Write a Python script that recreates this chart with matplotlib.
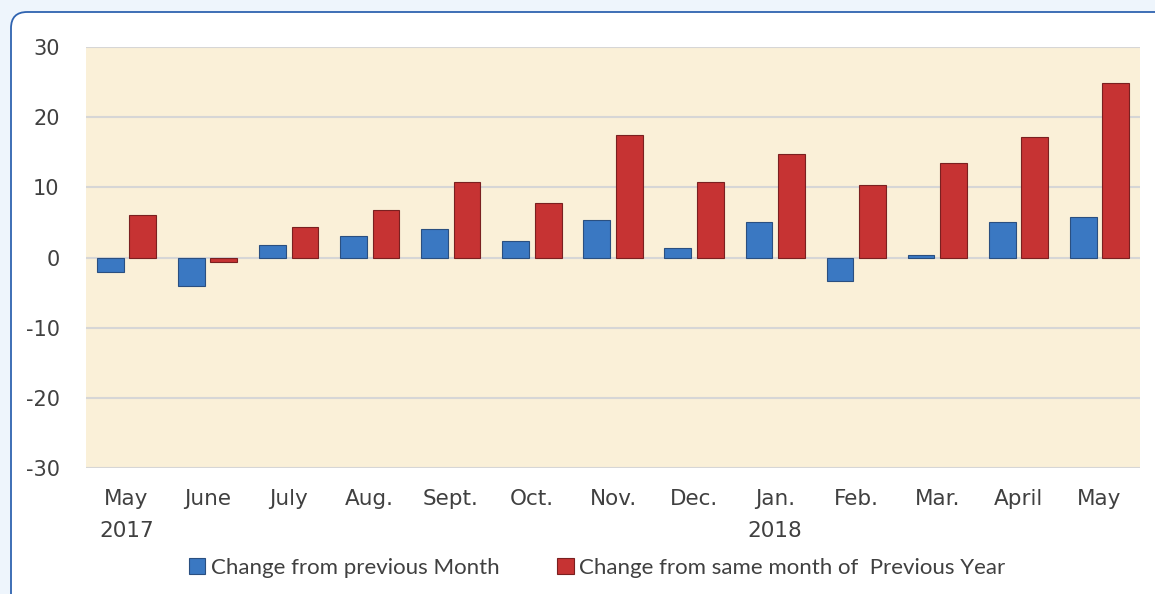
import numpy as np
import matplotlib.pyplot as plt
from matplotlib.patches import FancyBboxPatch

months = ['May\n2017', 'June', 'July', 'Aug.', 'Sept.', 'Oct.', 'Nov.',
          'Dec.', 'Jan.\n2018', 'Feb.', 'Mar.', 'April', 'May']
prev_month = [-2.0, -4.0, 1.8, 3.0, 4.1, 2.4, 5.3, 1.4, 5.0, -3.4, 0.3, 5.0, 5.8]
prev_year = [6.1, -0.6, 4.4, 6.7, 10.7, 7.8, 17.5, 10.7, 14.7, 10.4, 13.5, 17.2, 24.9]
yticks = [30, 20, 10, 0, -10, -20, -30]

blue = '#3A78C2'
red = '#C63333'

fig = plt.figure(figsize=(11.55, 5.94), dpi=100)
fig.patch.set_facecolor('#EEF5FC')

# white rounded panel (runs off right and bottom edges)
panel = FancyBboxPatch((11 / 1155, -0.2), 1.2, 1.2 - 12 / 594,
                       boxstyle='round,pad=0,rounding_size=0.014',
                       transform=fig.transFigure, facecolor='white',
                       edgecolor='#2F63B0', linewidth=1.3,
                       mutation_aspect=1155 / 594, zorder=-10)
fig.patches.append(panel)

ax = fig.add_axes([86 / 1155, 1 - 468 / 594, (1140 - 86) / 1155, (468 - 47) / 594])
ax.set_facecolor('#FAF0D8')

x = np.arange(len(months))
w = 0.33
ax.bar(x - 0.2, prev_month, w, color=blue, edgecolor='#2A4F80', linewidth=0.8, zorder=3,
       label='Change from previous Month')
ax.bar(x + 0.2, prev_year, w, color=red, edgecolor='#7A2020', linewidth=0.8, zorder=3,
       label='Change from same month of  Previous Year')

ax.set_xlim(-0.5, len(months) - 0.5)
ax.set_ylim(-30, 30)
ax.set_yticks(yticks)
ax.set_yticklabels([str(t) for t in yticks])
for t in yticks:
    ax.axhline(t, color='#D6D6D6', linewidth=1.5, zorder=1)

ax.set_xticks(x)
ax.set_xticklabels(months, linespacing=1.75)
ax.tick_params(axis='both', length=0, labelcolor='#404040')
ax.tick_params(axis='y', pad=19, labelsize=15)
ax.tick_params(axis='x', pad=15, labelsize=15.5)
for s in ax.spines.values():
    s.set_visible(False)

leg = fig.legend(loc='center', bbox_to_anchor=(0.517, 1 - 568 / 594), ncol=2,
                 frameon=False, handlelength=0.75, handleheight=0.75,
                 handletextpad=0.25, columnspacing=2.6,
                 prop={'family': 'Lato', 'size': 16})
for txt in leg.get_texts():
    txt.set_color('#404040')

fig.savefig('out.png', dpi=100, facecolor=fig.get_facecolor())
